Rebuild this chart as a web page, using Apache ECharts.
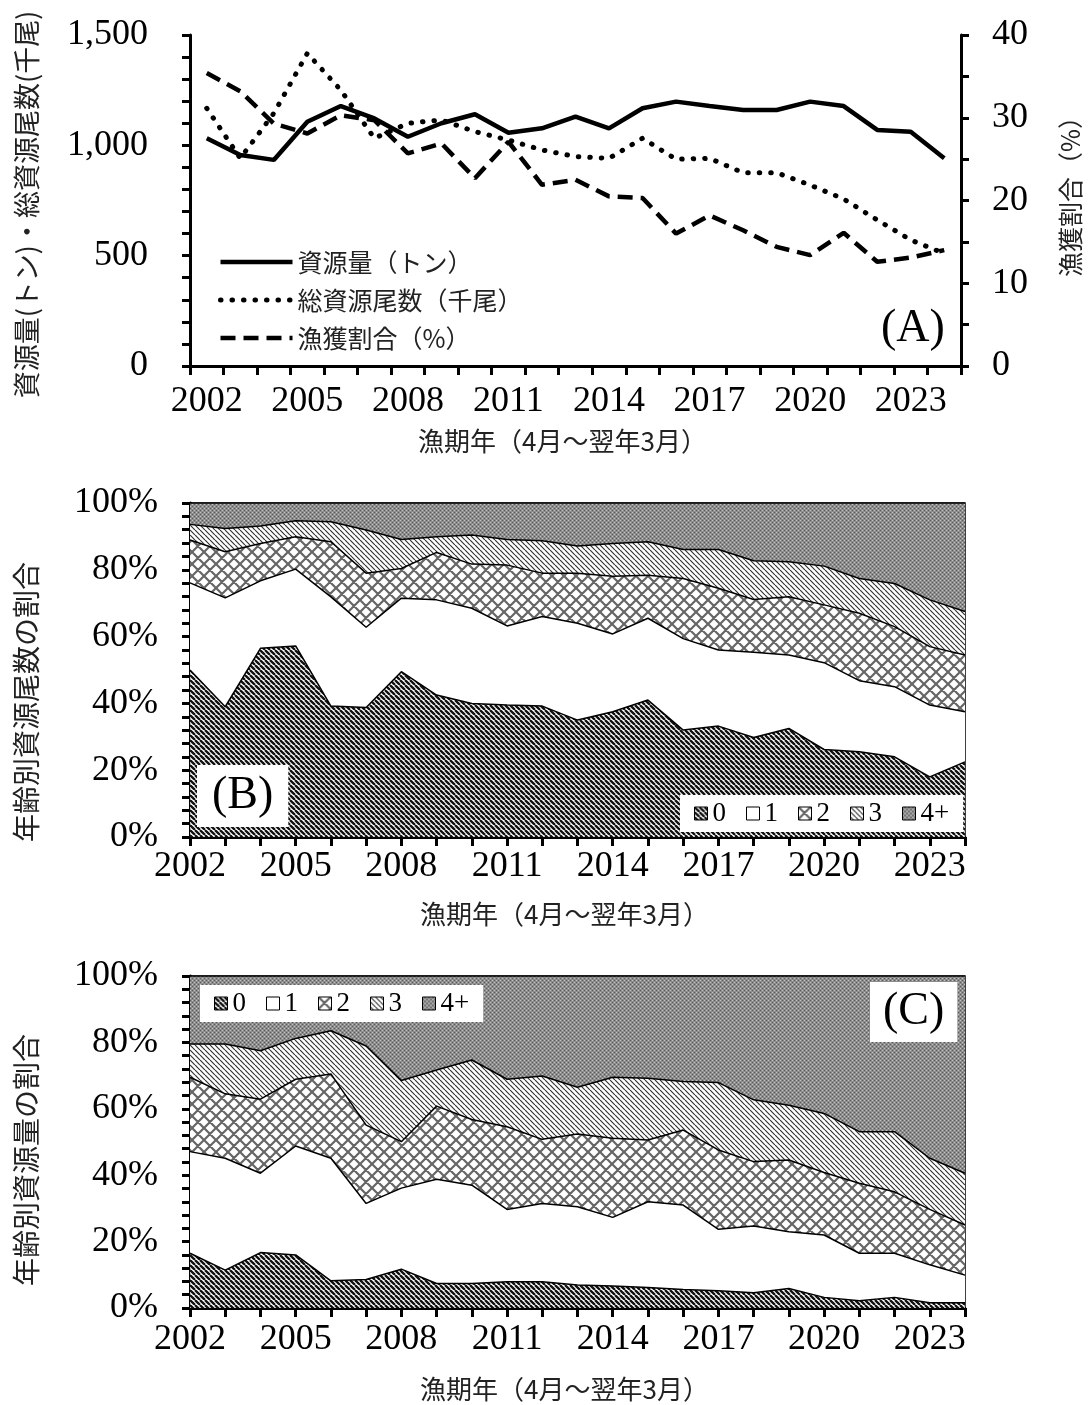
<!DOCTYPE html>
<html><head><meta charset="utf-8">
<script src="https://cdn.jsdelivr.net/npm/echarts@6/dist/echarts.min.js"></script>
<style>html,body{margin:0;padding:0;background:#fff}#c{width:1091px;height:1405px}</style>
</head><body><div id="c"></div>
<script>
const years = ['2002','2003','2004','2005','2006','2007','2008','2009','2010','2011','2012','2013','2014','2015','2016','2017','2018','2019','2020','2021','2022','2023','2024'];

// Panel A
const biomass = [1032,956,934,1107,1178,1122,1039,1100,1141,1057,1077,1130,1077,1168,1198,1178,1160,1160,1198,1178,1070,1062,941];
const totalNumber = [1168,941,1145,1417,1250,1032,1100,1115,1062,1024,979,949,941,1032,937,941,876,876,820,757,662,571,510];
const harvestRate = [35.4,33.2,29.3,28.1,30.3,29.7,25.7,26.9,22.7,27.1,21.9,22.5,20.5,20.3,16.0,18.2,16.4,14.4,13.4,16.1,12.6,13.1,14.0];

// Panel B: share of numbers by age (%)
const numAge0 = [50.0,39.0,56.5,57.2,39.2,38.8,49.5,42.5,40.0,39.5,39.2,35.0,37.5,41.0,32.0,33.2,29.8,32.5,26.2,25.5,24.0,18.0,22.5];
const numAge1 = [26.1,32.6,20.2,23.0,32.7,24.0,22.0,28.5,28.5,23.7,26.8,29.0,23.3,24.5,27.4,22.8,25.5,22.0,26.0,21.3,21.0,21.5,15.0];
const numAge2 = [12.8,13.8,11.2,9.7,16.5,16.2,8.9,14.2,13.2,18.2,13.0,15.0,17.3,12.9,18.0,18.5,15.8,17.4,17.3,20.2,18.0,17.5,17.0];
const numAge3 = [4.7,7.0,5.2,4.8,6.0,12.9,8.7,4.7,8.7,7.7,9.7,8.1,9.8,10.0,8.7,11.6,11.6,10.5,11.6,10.4,12.9,14.0,13.0];
const numAge4 = [6.4,7.6,6.9,5.3,5.6,8.1,10.9,10.1,9.6,10.9,11.3,12.9,12.1,11.6,13.9,13.9,17.3,17.6,18.9,22.6,24.1,29.0,32.5];

// Panel C: share of biomass by age (%)
const bioAge0 = [16.5,11.4,16.7,16.0,8.2,8.6,11.7,7.4,7.4,7.9,7.9,6.9,6.6,6.2,5.6,5.2,4.6,5.9,3.2,2.2,3.2,1.6,1.6];
const bioAge1 = [30.6,33.7,23.9,32.8,36.9,22.9,24.4,31.4,29.6,21.8,23.6,23.6,20.7,25.8,25.4,18.5,20.1,17.1,18.8,14.3,13.3,11.4,8.3];
const bioAge2 = [22.4,19.4,22.3,20.1,25.4,23.6,14.0,22.0,19.8,24.9,19.3,21.9,23.8,18.6,22.6,23.9,19.4,21.6,18.8,21.1,18.5,16.7,15.1];
const bioAge3 = [10.0,15.0,14.6,12.3,13.0,23.8,18.4,10.9,17.9,14.3,19.1,14.1,18.4,18.6,14.6,20.3,18.6,16.5,17.8,15.5,18.1,15.4,15.6];
const bioAge4 = [20.5,20.5,22.5,18.8,16.5,21.1,31.5,28.3,25.3,31.1,30.1,33.5,30.5,30.8,31.8,32.1,37.3,38.9,41.4,46.9,46.9,54.9,59.4];

const ageNames = ['0','1','2','3','4+'];
const seriesNamesA = ['資源量（トン）','総資源尾数（千尾）','漁獲割合（%）'];

function tile(w, h, draw) {
  const c = document.createElement('canvas'); c.width = w; c.height = h;
  const ctx = c.getContext('2d'); draw(ctx, w, h); return {image: c, repeat: 'repeat'};
}
function stripes(s, lw, col) {
  return tile(s, s, (ctx) => {
    ctx.fillStyle = '#fff'; ctx.fillRect(0, 0, s, s);
    ctx.strokeStyle = col; ctx.lineWidth = lw; ctx.beginPath();
    for (let k = -1; k <= 1; k++) { ctx.moveTo(k*s, 0); ctx.lineTo(k*s + s, s); }
    ctx.stroke();
  });
}
const pat0 = stripes(5, 2.3, '#111');
const pat1 = '#ffffff';
const pat2 = tile(12, 12, (ctx, s) => {
  ctx.fillStyle = '#fff'; ctx.fillRect(0, 0, s, s);
  ctx.strokeStyle = '#666'; ctx.lineWidth = 2.2; ctx.beginPath();
  for (let k = -1; k <= 1; k++) {
    ctx.moveTo(k*s, 0); ctx.lineTo(k*s + s, s);
    ctx.moveTo(k*s + s, 0); ctx.lineTo(k*s, s);
  }
  ctx.stroke();
});
const pat3 = stripes(5, 1.2, '#333');
const pat4 = tile(4, 4, (ctx) => {
  ctx.fillStyle = '#8c8c8c'; ctx.fillRect(0, 0, 4, 4);
  ctx.fillStyle = '#c4c4c4'; ctx.fillRect(0, 0, 1, 1); ctx.fillRect(2, 2, 1, 1);
  ctx.fillStyle = '#5a5a5a'; ctx.fillRect(2, 0, 1, 1); ctx.fillRect(0, 2, 1, 1);
});
const pats = [pat0, pat1, pat2, pat3, pat4];

const SERIF = "'Liberation Serif', 'Times New Roman', serif";
const JP = "'Noto Sans CJK JP', sans-serif";

const axisLine = {show: true, onZero: false, lineStyle: {color: '#000', width: 3}};
const tickStyle = {show: true, length: 8, lineStyle: {color: '#000', width: 3}};
const minorStyle = (n) => ({show: true, splitNumber: n, length: 8, lineStyle: {color: '#000', width: 3}});
const numLabel = (margin) => ({fontFamily: SERIF, fontSize: 36, color: '#000', margin: margin});
const xName = {fontFamily: JP, fontSize: 26, color: '#222', padding: [0, 26, 0, 0]};

function xCat(grid, gap, margin, nameGap) {
  return {
    gridIndex: grid, type: 'category', data: years, boundaryGap: gap,
    axisLine: axisLine,
    axisTick: {show: true, interval: 0, length: 9, lineStyle: {color: '#000', width: 3}},
    axisLabel: Object.assign(numLabel(margin), {interval: 2}),
    splitLine: {show: false},
    name: '漁期年（4月～翌年3月）', nameLocation: 'middle', nameGap: nameGap, nameTextStyle: xName
  };
}

function stackSeries(arrs, xi, yi, stack) {
  return arrs.map((d, i) => ({
    name: ageNames[i], type: 'line', xAxisIndex: xi, yAxisIndex: yi, stack: stack,
    data: d, symbol: 'none', showSymbol: false,
    lineStyle: {color: '#000', width: 1.5},
    itemStyle: {color: pats[i]},
    areaStyle: {color: pats[i], opacity: 1},
    emphasis: {disabled: true}, silent: true, animation: false
  }));
}

function ageLegend(left, top) {
  return {
    left: left, top: top, orient: 'horizontal', icon: 'rect',
    itemWidth: 13, itemHeight: 13, itemGap: 20,
    backgroundColor: '#fff', padding: [5, 14],
    textStyle: {fontFamily: SERIF, fontSize: 27, color: '#000'},
    selectedMode: false,
    data: ageNames.map((n, i) => ({name: n, itemStyle: {color: pats[i], borderColor: '#000', borderWidth: 1}}))
  };
}

const titleStyle = {fontFamily: SERIF, fontSize: 46, fontWeight: 'normal', color: '#000'};
const lineStylesA = [
  {color: '#000', width: 4.5, type: 'solid'},
  {color: '#000', width: 5, type: [0.5, 11], cap: 'round'},
  {color: '#000', width: 4.5, type: [15, 8]}
];

const option = {
  animation: false,
  backgroundColor: '#fff',
  title: [
    {text: '(A)', left: 881, top: 306, padding: 0, textStyle: titleStyle},
    {text: '(B)', left: 197, top: 765, padding: [8, 15], backgroundColor: '#fff', textStyle: titleStyle},
    {text: '(C)', left: 870, top: 982, padding: [7, 13], backgroundColor: '#fff', textStyle: titleStyle}
  ],
  grid: [
    {left: 190, top: 35, width: 776, height: 331},
    {left: 190, top: 503, width: 775, height: 334, show: true, borderColor: '#000', borderWidth: 1.5},
    {left: 190, top: 976, width: 775, height: 332, show: true, borderColor: '#000', borderWidth: 1.5}
  ],
  legend: [
    {
      left: 218, top: 245, orient: 'vertical', itemWidth: 72, itemHeight: 14, itemGap: 4,
      padding: 0,
      textStyle: {fontFamily: JP, fontSize: 25, color: '#222', lineHeight: 34},
      itemStyle: {opacity: 0}, selectedMode: false,
      data: seriesNamesA.map((n, i) => ({name: n, lineStyle: lineStylesA[i]}))
    },
    ageLegend(680, 795),
    ageLegend(200, 985)
  ],
  xAxis: [xCat(0, true, 18, 62), xCat(1, false, 12, 64), xCat(2, false, 14, 68)],
  yAxis: [
    {gridIndex: 0, type: 'value', position: 'left', min: 0, max: 1500, interval: 500,
     axisLine: axisLine, axisTick: tickStyle, minorTick: minorStyle(5), splitLine: {show: false},
     axisLabel: Object.assign(numLabel(42), {formatter: v => v.toLocaleString('en-US')}),
     name: '資源量(トン)・総資源尾数(千尾)', nameLocation: 'middle', nameGap: 150,
     nameTextStyle: {fontFamily: JP, fontSize: 27, color: '#222', padding: [0, 8, 0, 0]}},
    {gridIndex: 0, type: 'value', position: 'right', min: 0, max: 40, interval: 10,
     axisLine: axisLine, axisTick: tickStyle, minorTick: minorStyle(2), splitLine: {show: false},
     axisLabel: numLabel(31),
     name: '漁獲割合（%）', nameLocation: 'middle', nameGap: 97,
     nameTextStyle: {fontFamily: JP, fontSize: 25, color: '#222', padding: [0, 0, 0, 20]}},
    {gridIndex: 1, type: 'value', position: 'left', min: 0, max: 100, interval: 20,
     axisLine: axisLine, axisTick: tickStyle, minorTick: minorStyle(5), splitLine: {show: false},
     axisLabel: Object.assign(numLabel(32), {formatter: '{value}%'}),
     name: '年齢別資源尾数の割合', nameLocation: 'middle', nameGap: 150,
     nameTextStyle: {fontFamily: JP, fontSize: 28, color: '#222', padding: [0, 64, 0, 0]}},
    {gridIndex: 2, type: 'value', position: 'left', min: 0, max: 100, interval: 20,
     axisLine: axisLine, axisTick: tickStyle, minorTick: minorStyle(5), splitLine: {show: false},
     axisLabel: Object.assign(numLabel(32), {formatter: '{value}%'}),
     name: '年齢別資源量の割合', nameLocation: 'middle', nameGap: 150,
     nameTextStyle: {fontFamily: JP, fontSize: 28, color: '#222', padding: [0, 36, 0, 0]}}
  ],
  series: [
    {name: seriesNamesA[0], type: 'line', xAxisIndex: 0, yAxisIndex: 0, data: biomass,
     symbol: 'none', lineStyle: lineStylesA[0], itemStyle: {color: '#000'}, z: 5},
    {name: seriesNamesA[1], type: 'line', xAxisIndex: 0, yAxisIndex: 0, data: totalNumber,
     symbol: 'none', lineStyle: lineStylesA[1], itemStyle: {color: '#000'}, z: 4},
    {name: seriesNamesA[2], type: 'line', xAxisIndex: 0, yAxisIndex: 1, data: harvestRate,
     symbol: 'none', lineStyle: lineStylesA[2], itemStyle: {color: '#000'}, z: 3}
  ].concat(stackSeries([numAge0, numAge1, numAge2, numAge3, numAge4], 1, 2, 'B'))
   .concat(stackSeries([bioAge0, bioAge1, bioAge2, bioAge3, bioAge4], 2, 3, 'C'))
};

const chart = echarts.init(document.getElementById('c'), null, {renderer: 'canvas'});
chart.setOption(option);
</script>
</body></html>
